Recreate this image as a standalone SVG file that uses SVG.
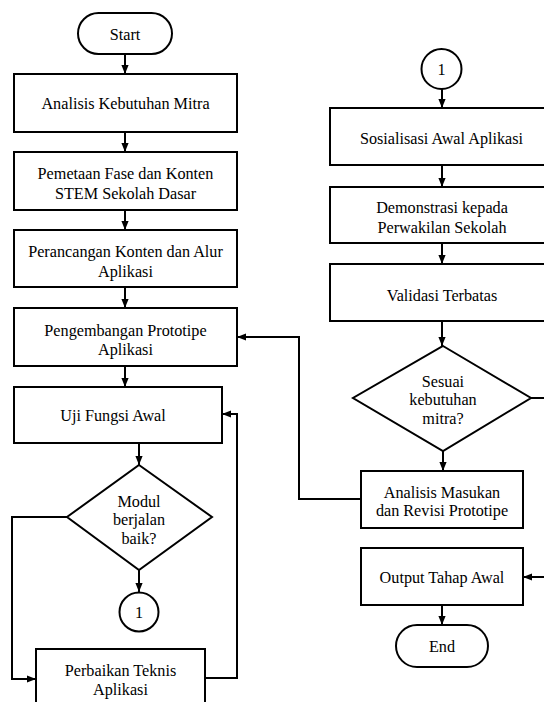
<svg xmlns="http://www.w3.org/2000/svg" width="544" height="702" viewBox="0 0 544 702">
<style>
.box{fill:#fff;stroke:#000;stroke-width:2}
.t{font-size:16.2px;fill:#000;text-anchor:middle}
.c{fill:none;stroke:#000;stroke-width:2}
</style>
<defs>
<marker id="ah" viewBox="0 0 10 10" refX="10" refY="5" markerWidth="9" markerHeight="9" markerUnits="userSpaceOnUse" orient="auto"><path d="M0,1 L10,5 L0,9 z" fill="#000"/></marker>
</defs>
<rect width="544" height="702" fill="#fff"/>
<g id="connectors">
<path class="c" d="M125,54 V74" marker-end="url(#ah)"/>
<path class="c" d="M125,132 V152" marker-end="url(#ah)"/>
<path class="c" d="M125,210 V230" marker-end="url(#ah)"/>
<path class="c" d="M125,287 V308" marker-end="url(#ah)"/>
<path class="c" d="M125,366 V387" marker-end="url(#ah)"/>
<path class="c" d="M139,443 V465" marker-end="url(#ah)"/>
<path class="c" d="M139,570 V592" marker-end="url(#ah)"/>
<path class="c" d="M67,517 H12 V679 H36" marker-end="url(#ah)"/>
<path class="c" d="M205,678 H237 V414 H222" marker-end="url(#ah)"/>
<path class="c" d="M442,89 V108" marker-end="url(#ah)"/>
<path class="c" d="M442,165 V187" marker-end="url(#ah)"/>
<path class="c" d="M442,243 V264" marker-end="url(#ah)"/>
<path class="c" d="M442,321 V346" marker-end="url(#ah)"/>
<path class="c" d="M443,451 V471" marker-end="url(#ah)"/>
<path class="c" d="M361,499 H299 V337 H237" marker-end="url(#ah)"/>
<path class="c" d="M531,398 H546"/>
<path class="c" d="M546,577 H523" marker-end="url(#ah)"/>
<path class="c" d="M442,605 V625" marker-end="url(#ah)"/>
</g>
<g font-family="Liberation Serif">
<g id="start"><rect class="box" x="78" y="13" width="94" height="41" rx="20.5"/><text class="t" x="125" y="39.5">Start</text></g>
<g id="analisis-kebutuhan"><rect class="box" x="14" y="74" width="223" height="58"/><text class="t" x="125.5" y="108.5">Analisis Kebutuhan Mitra</text></g>
<g id="pemetaan"><rect class="box" x="14" y="152" width="223" height="58"/><text class="t" x="125.5" y="178.5">Pemetaan Fase dan Konten</text><text class="t" x="125.5" y="198.5">STEM Sekolah Dasar</text></g>
<g id="perancangan"><rect class="box" x="14" y="230" width="223" height="57"/><text class="t" x="125.5" y="256.5">Perancangan Konten dan Alur</text><text class="t" x="125.5" y="276.5">Aplikasi</text></g>
<g id="pengembangan"><rect class="box" x="14" y="308" width="223" height="58"/><text class="t" x="125.5" y="335.5">Pengembangan Prototipe</text><text class="t" x="125.5" y="354.5">Aplikasi</text></g>
<g id="uji"><rect class="box" x="14" y="387" width="208" height="56"/><text class="t" x="113" y="420.5">Uji Fungsi Awal</text></g>
<g id="modul"><polygon class="box" points="139,465 212,517 139,570 67,517"/><text class="t" x="139" y="506.5">Modul</text><text class="t" x="139" y="524.5">berjalan</text><text class="t" x="139" y="543.5">baik?</text></g>
<g id="conn1-left"><circle class="box" cx="139" cy="612" r="19.5"/><text class="t" x="139" y="617.5">1</text></g>
<g id="perbaikan"><rect class="box" x="36" y="649" width="169" height="70"/><text class="t" x="120.5" y="675.5">Perbaikan Teknis</text><text class="t" x="120.5" y="694.5">Aplikasi</text></g>
<g id="conn1-right"><circle class="box" cx="441.5" cy="69" r="20"/><text class="t" x="441.5" y="74.5">1</text></g>
<g id="sosialisasi"><rect class="box" x="330" y="108" width="224" height="57"/><text class="t" x="441.5" y="143.5">Sosialisasi Awal Aplikasi</text></g>
<g id="demonstrasi"><rect class="box" x="330" y="187" width="224" height="56"/><text class="t" x="442" y="212.5">Demonstrasi kepada</text><text class="t" x="442" y="232.5">Perwakilan Sekolah</text></g>
<g id="validasi"><rect class="box" x="330" y="264" width="224" height="57"/><text class="t" x="442" y="300.5">Validasi Terbatas</text></g>
<g id="sesuai"><polygon class="box" points="443,346 531,398 443,451 353,398"/><text class="t" x="443" y="386.5">Sesuai</text><text class="t" x="443" y="404.5">kebutuhan</text><text class="t" x="443" y="423.5">mitra?</text></g>
<g id="analisis-masukan"><rect class="box" x="361" y="471" width="162" height="57"/><text class="t" x="442" y="497.5">Analisis Masukan</text><text class="t" x="442" y="515.5">dan Revisi Prototipe</text></g>
<g id="output"><rect class="box" x="361" y="548" width="162" height="57"/><text class="t" x="442" y="582.5">Output Tahap Awal</text></g>
<g id="end"><rect class="box" x="396" y="625" width="92" height="42" rx="21"/><text class="t" x="442" y="651.5">End</text></g>
</g>
</svg>
